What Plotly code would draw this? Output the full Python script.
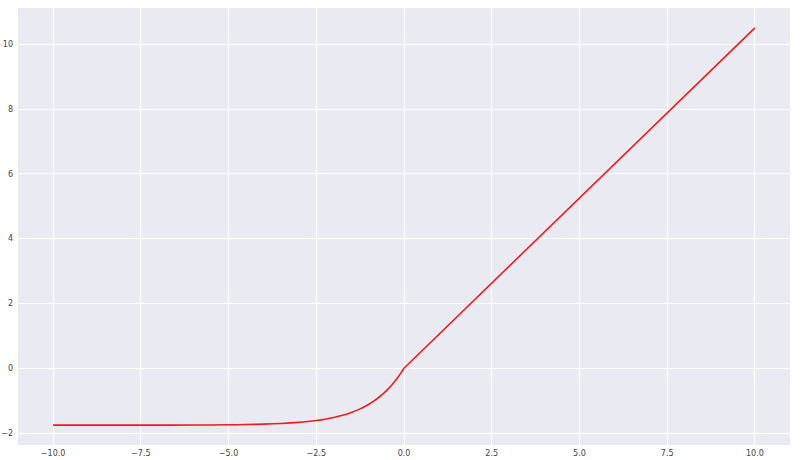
import plotly.graph_objects as go

# Points (x, y)
x_vals = [-10.0, -7.0, -6.0, -5.0, -4.5, -4.0, -3.5, -3.0, -2.75, -2.5, -2.25, -2.0, -1.75,
          -1.5, -1.25, -1.0, -0.875, -0.75, -0.625, -0.5, -0.4, -0.3, -0.2, -0.1, 0.0, 10.0]
y_vals = [-1.758, -1.756, -1.754, -1.746, -1.738, -1.726, -1.705, -1.671, -1.646, -1.614,
          -1.573, -1.520, -1.453, -1.366, -1.255, -1.111, -1.025, -0.927, -0.816, -0.692,
          -0.580, -0.456, -0.319, -0.167, 0.0, 10.507]

x_ticks = [-10.0, -7.5, -5.0, -2.5, 0.0, 2.5, 5.0, 7.5, 10.0]
y_ticks = [-2, 0, 2, 4, 6, 8, 10]

LINE_COLOR = "#f01c1c"
split = x_vals.index(0.0)

fig = go.Figure()
# curved negative branch (smoothed)
fig.add_trace(go.Scatter(x=x_vals[:split + 1], y=y_vals[:split + 1], mode="lines",
                         line=dict(color=LINE_COLOR, width=1.6, shape="spline", smoothing=0.8),
                         showlegend=False, hoverinfo="skip"))
# straight positive branch
fig.add_trace(go.Scatter(x=x_vals[split:], y=y_vals[split:], mode="lines",
                         line=dict(color=LINE_COLOR, width=1.6, shape="linear"),
                         showlegend=False, hoverinfo="skip"))

fig.update_layout(
    width=800, height=460,
    margin=dict(l=18, r=10, t=8, b=15),
    paper_bgcolor="white", plot_bgcolor="#EAEAF2",
    font=dict(family="DejaVu Sans", size=8, color="#444"),
    xaxis=dict(range=[-11, 11], tickvals=x_ticks, tickformat=".1f", automargin=False,
               showgrid=True, gridcolor="white", gridwidth=1, zeroline=False,
               showline=False, ticks="", ticklabelstandoff=2),
    yaxis=dict(range=[-2.37, 11.12], tickvals=y_ticks, automargin=False,
               showgrid=True, gridcolor="white", gridwidth=1, zeroline=False,
               showline=False, ticks="", ticklabelstandoff=4),
)

fig.write_html("out.html", config={"displayModeBar": False},
               post_script="document.body.style.margin='0';document.body.style.overflow='hidden';")
